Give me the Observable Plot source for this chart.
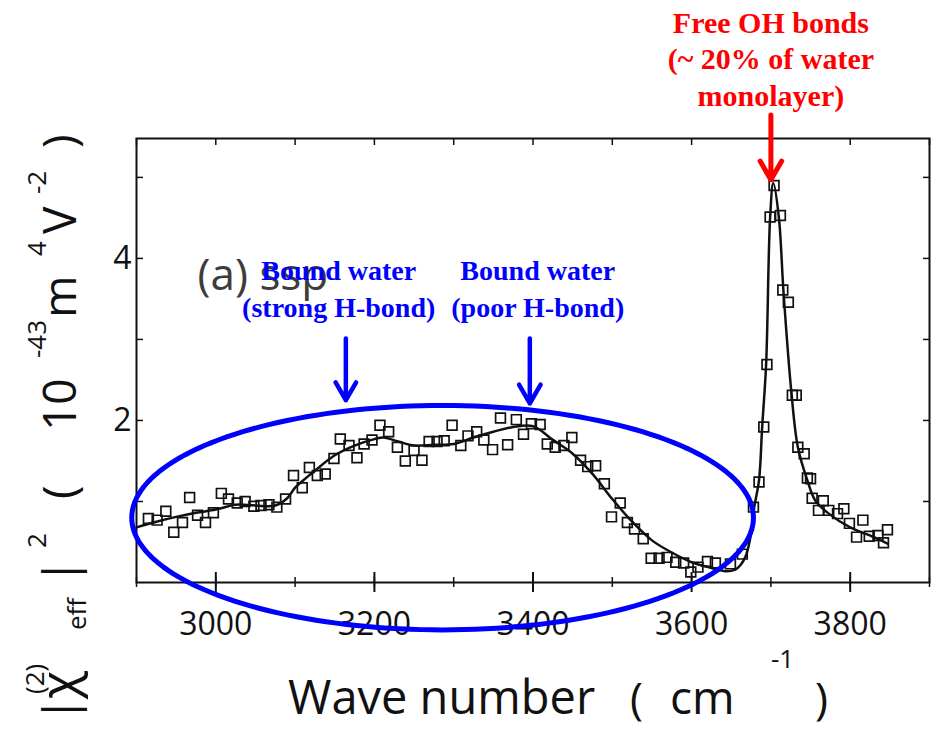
<!DOCTYPE html>
<html>
<head>
<meta charset="utf-8">
<script src="https://cdn.jsdelivr.net/npm/d3@7"></script>
<script src="https://cdn.jsdelivr.net/npm/@observablehq/plot@0.6"></script>
<style>
  html, body { margin: 0; padding: 0; background: #fff; }
  #chart svg { display: block; }
</style>
</head>
<body>
<div id="chart"></div>
<script>
// SFG spectrum (ssp), |chi_eff^(2)|^2 versus IR wave number
const waveNumber = [
  2915, 2926, 2937, 2947, 2958, 2967, 2977, 2987, 2997, 3007, 3016, 3027, 3037, 3048, 3057, 3067,
  3077, 3088, 3098, 3109, 3118, 3128, 3138, 3149, 3157, 3168, 3178, 3187, 3197, 3207, 3218, 3229,
  3239, 3250, 3260, 3269, 3279, 3288, 3298, 3309, 3318, 3329, 3338, 3349, 3359, 3368, 3379, 3388,
  3398, 3409, 3418, 3428, 3439, 3449, 3460, 3469, 3479, 3490, 3499, 3510, 3519, 3528, 3539, 3549,
  3559, 3569, 3580, 3590, 3599, 3608, 3620, 3630, 3649, 3664, 3678, 3685, 3691, 3695, 3699, 3704,
  3712, 3715, 3722, 3727, 3732, 3734, 3742, 3746, 3750, 3752, 3760, 3766, 3773, 3784, 3792, 3799,
  3808, 3816, 3824, 3835, 3842, 3847
];
const chi2 = [
  0.79, 0.77, 0.88, 0.62, 0.74, 1.05, 0.83, 0.74, 0.86, 1.10, 1.03, 0.98, 1.00, 0.94, 0.95, 0.96,
  0.93, 1.03, 1.32, 1.17, 1.42, 1.32, 1.34, 1.53, 1.77, 1.69, 1.54, 1.71, 1.76, 1.94, 1.86, 1.67,
  1.50, 1.63, 1.51, 1.74, 1.74, 1.75, 1.94, 1.69, 1.81, 1.86, 1.76, 1.64, 2.03, 1.70, 2.01, 1.83,
  1.96, 1.95, 1.71, 1.67, 1.69, 1.79, 1.51, 1.43, 1.44, 1.22, 0.81, 0.98, 0.74, 0.66, 0.54, 0.30,
  0.30, 0.31, 0.25, 0.24, 0.13, 0.19, 0.26, 0.24, 0.23, 0.35, 0.93, 1.24, 1.92, 2.69, 4.51, 4.90,
  4.53, 3.61, 3.46, 2.31, 2.31, 1.67, 1.59, 1.29, 1.28, 1.04, 0.89, 1.01, 0.89, 0.85, 0.91, 0.73,
  0.56, 0.77, 0.57, 0.58, 0.49, 0.65
];

// Fitted curve
const fitWaveNumber = [
  2900, 2925, 2950, 2975, 3000, 3025, 3050, 3075, 3090, 3100, 3115, 3125, 3150, 3175, 3200, 3212,
  3230, 3250, 3275, 3300, 3325, 3350, 3375, 3400, 3425, 3450, 3475, 3500, 3525, 3550, 3575, 3600,
  3625, 3643, 3655, 3662, 3668, 3674, 3679, 3685, 3689, 3694, 3699, 3703, 3710, 3716, 3726, 3734,
  3746, 3756, 3773, 3800, 3830, 3847
];
const fitChi2 = [
  0.68, 0.75, 0.81, 0.86, 0.90, 0.96, 0.95, 0.95, 1.04, 1.17, 1.30, 1.38, 1.57, 1.69, 1.77, 1.79,
  1.74, 1.69, 1.70, 1.71, 1.79, 1.86, 1.92, 1.93, 1.76, 1.59, 1.34, 1.03, 0.75, 0.52, 0.37, 0.25,
  0.18, 0.14, 0.16, 0.22, 0.32, 0.55, 0.93, 1.26, 1.92, 2.70, 4.50, 4.93, 4.51, 3.57, 2.33, 1.67,
  1.26, 1.01, 0.85, 0.68, 0.56, 0.48
];

const xDomain = [2900, 3900];
const yDomain = [0, 5.48];
const xLabelTicks = [3000, 3200, 3400, 3600, 3800];
const xTickMarks = [2900, 3000, 3100, 3200, 3300, 3400, 3500, 3600, 3700, 3800, 3900];
const yLabelTicks = [2, 4];
const yTickMarks = [1, 2, 3, 4, 5];

// Outline of the highlighted hydrogen-bonded region, in data units
const region = {cx: 3286, cy: 0.80, rx: 392, ry: 1.385};

const points = waveNumber.map((x, i) => ({x, y: chi2[i]}));
const fit = fitWaveNumber.map((x, i) => ({x, y: fitChi2[i]}));
const regionOutline = d3.range(0, 362, 2).map(a => ({
  x: region.cx + region.rx * Math.cos(a * Math.PI / 180),
  y: region.cy + region.ry * Math.sin(a * Math.PI / 180)
}));

const W = 931, H = 730;
const M = {top: 138, right: 2, bottom: 148, left: 136};
const plotW = W - M.left - M.right;
const plotH = H - M.top - M.bottom;

const BLUE = "#0000ff", RED = "#ff0000", INK = "#111";
const serif = "'Liberation Serif', 'Times New Roman', serif";

const chart = Plot.plot({
  width: W,
  height: H,
  marginTop: M.top,
  marginRight: M.right,
  marginBottom: M.bottom,
  marginLeft: M.left,
  x: {domain: xDomain},
  y: {domain: yDomain},
  style: {fontFamily: "'Open Sans', sans-serif", fontSize: "32px", color: INK, background: "#fff", overflow: "visible"},
  marks: [
    Plot.frame({stroke: INK, strokeWidth: 2}),
    // bottom ticks crossing the axis
    Plot.ruleX(xTickMarks, {x: d => d, insetTop: plotH - 5, insetBottom: -5, stroke: INK, strokeWidth: 1.5}),
    Plot.ruleX(xLabelTicks, {x: d => d, insetTop: plotH - 10, insetBottom: -10, stroke: INK, strokeWidth: 2}),
    // top ticks
    Plot.ruleX(xTickMarks, {x: d => d, insetBottom: plotH - 7, stroke: INK, strokeWidth: 1.5}),
    // left and right ticks
    Plot.ruleY(yTickMarks, {y: d => d, insetRight: plotW - 7, stroke: INK, strokeWidth: 1.5}),
    Plot.ruleY(yTickMarks, {y: d => d, insetLeft: plotW - 6, stroke: INK, strokeWidth: 1.5}),
    Plot.axisX({ticks: xLabelTicks, tickSize: 0, tickPadding: 30, tickFormat: d => `${d}`, label: null, fill: INK}),
    Plot.axisY({ticks: yLabelTicks, tickSize: 0, tickPadding: 5, tickFormat: d => `${d}`, label: null, fill: INK}),
    // panel tag
    Plot.text(["(a) ssp"], {x: 2977, y: 3.79, text: d => d, textAnchor: "start", fontSize: 44, fill: "#3c3c3c"}),
    // fit and measured points
    Plot.line(fit, {x: "x", y: "y", curve: "catmull-rom", stroke: INK, strokeWidth: 2.5}),
    Plot.dot(points, {x: "x", y: "y", symbol: "square", r: 5.5, stroke: INK, strokeWidth: 1.7, fill: "none"}),
    // highlighted region
    Plot.line(regionOutline, {x: "x", y: "y", stroke: BLUE, strokeWidth: 5}),
    // annotations
    Plot.text(["Bound water\n(strong H-bond)"], {x: 3155, y: 3.65, text: d => d, fontFamily: serif, fontWeight: "bold", fontSize: 28, lineHeight: 1.32, fill: BLUE}),
    Plot.text(["Bound water\n(poor H-bond)"], {x: 3406, y: 3.65, text: d => d, fontFamily: serif, fontWeight: "bold", fontSize: 28, lineHeight: 1.32, fill: BLUE}),
    Plot.arrow([0], {x1: 3164, y1: 3.01, x2: 3164, y2: 2.25, stroke: BLUE, strokeWidth: 4.5}),
    Plot.arrow([0], {x1: 3396, y1: 3.01, x2: 3396, y2: 2.21, stroke: BLUE, strokeWidth: 4.5}),
    Plot.text(["Free OH bonds\n(~ 20% of water\nmonolayer)"], {x: 3700, y: 6.48, text: d => d, fontFamily: serif, fontWeight: "bold", fontSize: 30, lineHeight: 1.22, fill: RED}),
    Plot.arrow([0], {x1: 3700, y1: 5.77, x2: 3700, y2: 4.97, stroke: RED, strokeWidth: 5})
  ]
});

document.getElementById("chart").appendChild(chart);

// Axis titles with super- and subscripts
const svg = d3.select(chart);
const titleFont = "'Open Sans', sans-serif";

const xt = svg.append("text")
  .attr("font-family", titleFont)
  .attr("text-anchor", "start")
  .attr("fill", INK)
  .attr("font-size", 46);
[
  ["Wave number", 288, 714, 47],
  ["(", 630, 714, 44],
  ["cm", 670, 714, 46],
  ["-1", 771, 668, 26],
  [")", 815, 714, 44]
].forEach(([t, x, y, s]) => xt.append("tspan").attr("x", x).attr("y", y).attr("font-size", s).text(t));

// rotated y title, pieces placed from the bottom upward
const yBase = 76;
[
  ["|", 722, 46, 0],
  ["\u03c7", 699, 52, 0],
  ["(2)", 694, 26, -32],
  ["eff", 630, 26, 10],
  ["|", 584, 46, 0],
  ["2", 548, 26, -30],
  ["(", 499, 46, 0],
  ["10", 431, 46, 0],
  ["-43", 358, 26, -30],
  ["m", 318, 46, 0],
  ["4", 256, 26, -30],
  ["V", 234, 46, 0],
  ["-2", 194, 26, -30],
  [")", 148, 46, 0]
].forEach(([t, y, s, shift]) => {
  svg.append("text")
    .attr("transform", `translate(${yBase},${y}) rotate(-90)`)
    .attr("y", shift)
    .attr("text-anchor", "start")
    .attr("font-family", titleFont)
    .attr("font-size", s)
    .attr("fill", INK)
    .text(t);
});
</script>
</body>
</html>
